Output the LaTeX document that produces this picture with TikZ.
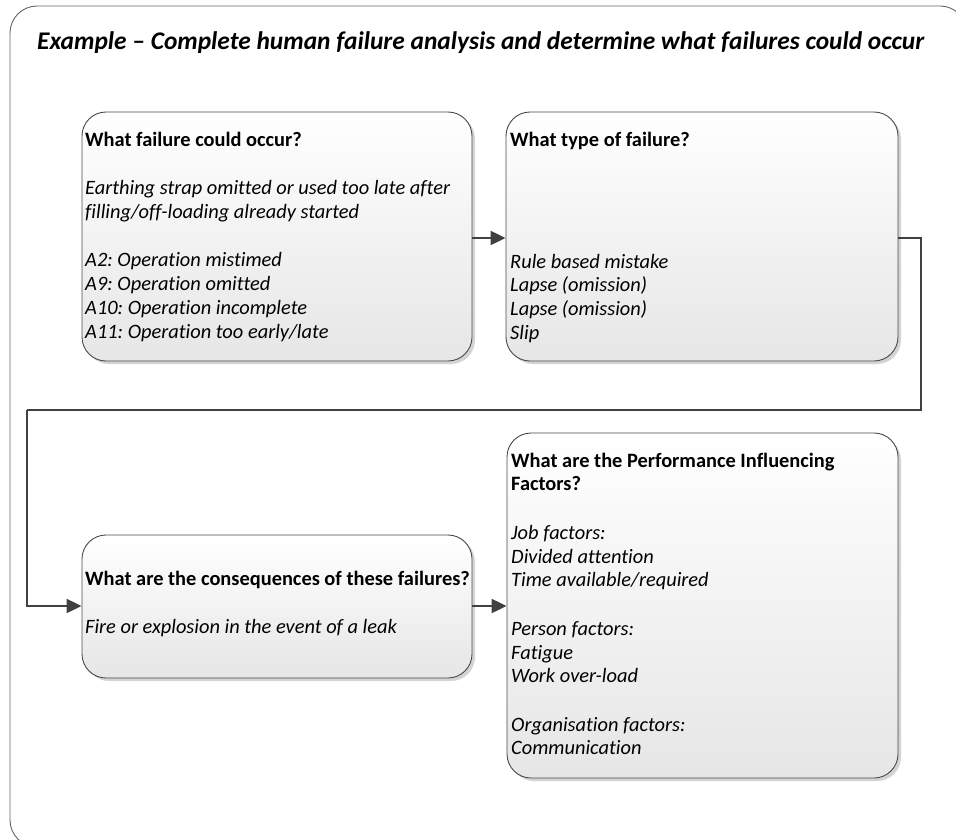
\documentclass[tikz,border=0pt]{standalone}
\usepackage{fontspec}
\setmainfont{Carlito}[Ligatures=NoCommon]
\usetikzlibrary{arrows.meta,shadows,calc}
\definecolor{boxline}{HTML}{4A4A4A}
\definecolor{boxbot}{HTML}{E6E6E6}
\definecolor{shadowc}{HTML}{D4D4D4}
\definecolor{conn}{HTML}{404040}
\definecolor{framec}{HTML}{666666}
\frenchspacing
\begin{document}
\begin{tikzpicture}[x=1pt,y=-1pt,
  box/.style={draw=boxline, line width=0.9pt, rounded corners=24pt,
    top color=white, bottom color=boxbot,
    drop shadow={shadow xshift=3pt, shadow yshift=-3pt, fill=shadowc, opacity=1},
    inner sep=0pt},
  txt/.style={inner sep=0pt, anchor=north west, align=left,
    font=\fontsize{20.4}{23.7}\selectfont\itshape\frenchspacing},
  titletxt/.style={inner sep=0pt, anchor=base west,
    font=\fontsize{25.4}{30}\selectfont\bfseries\itshape},
  connector/.style={draw=conn, line width=2.2pt},
  arrowc/.style={connector, -{Triangle[length=15pt,width=14pt]}},
  frame/.style={draw=framec, line width=0.9pt, rounded corners=27pt}
]
\useasboundingbox (0,0) rectangle (956,840);
\clip (0,0) rectangle (956,840);
\fill[white] (0,0) rectangle (956,840);
\draw[frame] (10,6) rectangle (967,847);

\node[titletxt] (title) at (37,50) {Example – Complete human failure analysis and determine what failures could occur};

% boxes
\node[box, minimum width=390pt, minimum height=249pt] (b1) at (277,236.5) {};
\node[box, minimum width=392pt, minimum height=249pt] (b2) at (702,236.5) {};
\node[box, minimum width=390pt, minimum height=143pt] (b3) at (277,606.5) {};
\node[box, minimum width=391pt, minimum height=345pt] (b4) at (702.5,605.5) {};

% texts (first baseline = y + 16)
\node[txt] (t1) at (85,130) {\rule{0pt}{16pt}\textbf{\upshape What failure could occur?}\\[24.8pt]
Earthing strap omitted or used too late after\\
filling/off-loading already started\\[24.8pt]
A2: Operation mistimed\\
A9: Operation omitted\\
A10: Operation incomplete\\
A11: Operation too early/late};

\node[txt] (t2) at (510,130) {\rule{0pt}{16pt}\textbf{\upshape What type of failure?}\\[98.3pt]
Rule based mistake\\
Lapse (omission)\\
Lapse (omission)\\
Slip};

\node[txt] (t3) at (85,569) {\rule{0pt}{16pt}\textbf{\upshape What are the consequences of these failures?}\\[24.8pt]
Fire or explosion in the event of a leak};

\node[txt] (t4) at (511,451) {\rule{0pt}{16pt}\textbf{\upshape What are the Performance Influencing}\\
\textbf{\upshape Factors?}\\[24.8pt]
Job factors:\\
Divided attention\\
Time available/required\\[24.8pt]
Person factors:\\
Fatigue\\
Work over-load\\[24.8pt]
Organisation factors:\\
Communication};

% connectors
\coordinate (c1) at (921,410);
\coordinate (c2) at (27,410);
\draw[arrowc] (b1.east |- 0,238) -- (b2.west |- 0,238);
\draw[connector] (b2.east |- 0,238) -| (c1) -- (c2);
\draw[arrowc] (c2) |- (b3.west |- 0,606);
\draw[arrowc] (b3.east |- 0,606) -- (b4.west |- 0,606);
\end{tikzpicture}
\end{document}
